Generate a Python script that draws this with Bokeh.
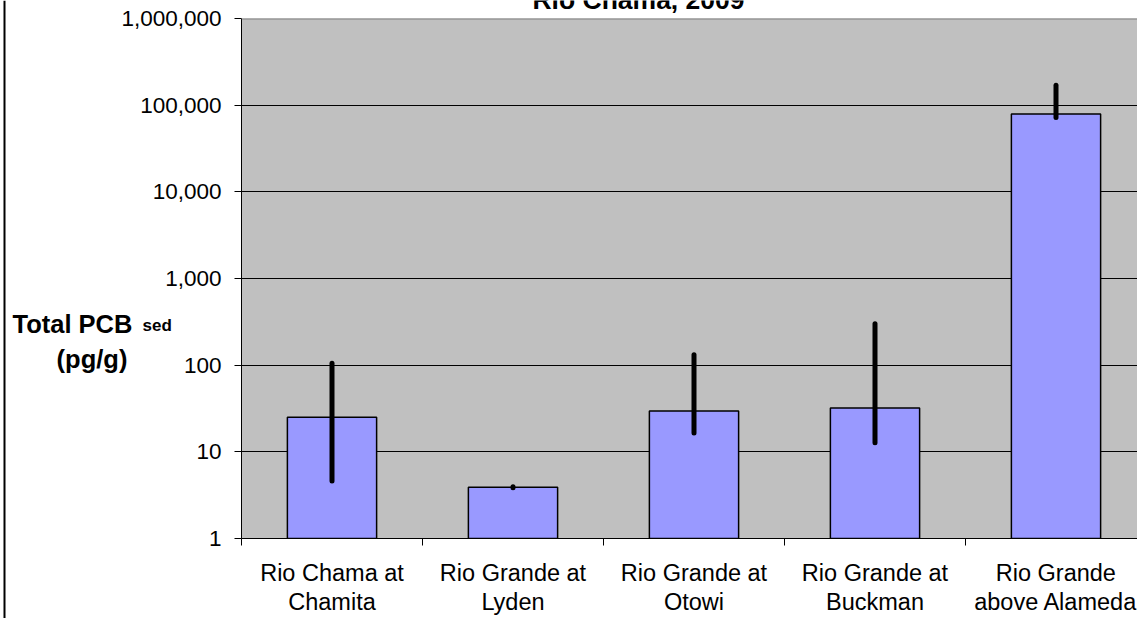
from bokeh.plotting import figure
from bokeh.models import Range1d, FixedTicker, Label, Span
from bokeh.embed import file_html
from bokeh.resources import INLINE

# ---- data ----
sites = ["Rio Chama at\nChamita", "Rio Grande at\nLyden", "Rio Grande at\nOtowi",
         "Rio Grande at\nBuckman", "Rio Grande\nabove Alameda"]
pcb = [25, 3.9, 29.5, 32, 79000]
err_low = [4.6, 3.85, 16.5, 12.7, 72000]
err_high = [105, 3.95, 132, 300, 170000]
y_ticks = [1, 10, 100, 1000, 10000, 100000, 1000000]
y_tick_labels = ["1", "10", "100", "1,000", "10,000", "100,000", "1,000,000"]
title_text = "Rio Chama, 2009"
y_title = "Total PCB"
y_sub = "sed"
y_unit = "(pg/g)"

centers = [i + 0.5 for i in range(len(sites))]
bounds = [float(i) for i in range(len(sites) + 1)]

FONT = "Liberation Sans"

# layout (page pixels)
W, H = 1137, 618
FRAME_LEFT, FRAME_TOP, FRAME_BOTTOM = 241, 18, 538
CAT_W = 181.0

p = figure(width=W, height=H, output_backend="svg", toolbar_location=None,
           x_range=Range1d(0, (W - FRAME_LEFT) / CAT_W), y_range=Range1d(1, 1e6),
           y_axis_type="log",
           min_border_left=FRAME_LEFT, min_border_right=0,
           min_border_top=FRAME_TOP, min_border_bottom=H - FRAME_BOTTOM,
           background_fill_color="#C0C0C0", border_fill_color="white",
           outline_line_color=None)

# grid
p.xgrid.visible = False
p.ygrid.ticker = FixedTicker(ticks=y_ticks)
p.ygrid.grid_line_color = "black"
p.ygrid.grid_line_width = 1

# y axis
p.yaxis.ticker = FixedTicker(ticks=y_ticks)
p.yaxis.major_label_overrides = {float(t): l for t, l in zip(y_ticks, y_tick_labels)}
p.yaxis.major_tick_out = 7
p.yaxis.major_tick_in = 0
p.yaxis.major_tick_line_color = "black"
p.yaxis.minor_tick_line_color = None
p.yaxis.major_label_standoff = 13
p.yaxis.major_label_text_font_size = "22.5px"

# x axis: labels at the bar centres, tick marks between categories
p.xaxis.ticker = FixedTicker(ticks=centers, minor_ticks=bounds)
p.xaxis.major_label_overrides = {c: s for c, s in zip(centers, sites)}
p.xaxis.major_tick_line_color = None
p.xaxis.major_tick_out = 0
p.xaxis.major_tick_in = 0
p.xaxis.minor_tick_line_color = "black"
p.xaxis.minor_tick_out = 7
p.xaxis.minor_tick_in = 0
p.xaxis.major_label_standoff = 14
p.xaxis.major_label_text_font_size = "23.5px"
p.xaxis.major_label_text_line_height = 1.15

for ax in (p.xaxis, p.yaxis):
    ax.axis_line_color = "black"
    ax.major_label_text_font = FONT
    ax.major_label_text_color = "black"

# bars and error bars
p.vbar(x=centers, top=pcb, bottom=1, width=0.493, fill_color="#9999FF",
       line_color="black", line_width=1.5)
p.segment(x0=centers, y0=err_low, x1=centers, y1=err_high, line_width=5,
          line_color="black", line_cap="round")

# top border of plot area
p.add_layout(Span(location=1e6, dimension="width", line_color="#808080", line_width=2))

# ---- transparent overlay (own root, absolutely placed) for texts outside the plot area ----
q = figure(width=W, height=H, output_backend="svg", toolbar_location=None,
           x_range=Range1d(0, W), y_range=Range1d(H, 0),
           x_axis_location=None, y_axis_location=None,
           min_border=0, min_border_left=0, min_border_right=0,
           min_border_top=0, min_border_bottom=0,
           background_fill_alpha=0, border_fill_alpha=0, outline_line_color=None)
q.grid.visible = False
q.styles = {"position": "absolute", "left": "0px", "top": "0px"}

# chart-area border on the left
q.add_layout(Span(location=4, dimension="height", line_color="black", line_width=2))

# title (cut off at the top as in the original)
q.add_layout(Label(x=638, y=-0.5, text=title_text, text_align="center",
                   text_baseline="alphabetic", text_font=FONT, text_font_style="bold",
                   text_font_size="26.5px", text_color="black"))

# y axis title
q.add_layout(Label(x=12, y=323, text=y_title, text_align="left",
                   text_baseline="alphabetic", text_font=FONT, text_font_style="bold",
                   text_font_size="25.5px", text_color="black"))
q.add_layout(Label(x=142, y=325, text=y_sub, text_align="left",
                   text_baseline="alphabetic", text_font=FONT, text_font_style="bold",
                   text_font_size="17px", text_color="black"))
q.add_layout(Label(x=91.5, y=358, text=y_unit, text_align="center",
                   text_baseline="alphabetic", text_font=FONT, text_font_style="bold",
                   text_font_size="25.5px", text_color="black"))

open("out.html", "w").write(file_html([p, q], INLINE))
